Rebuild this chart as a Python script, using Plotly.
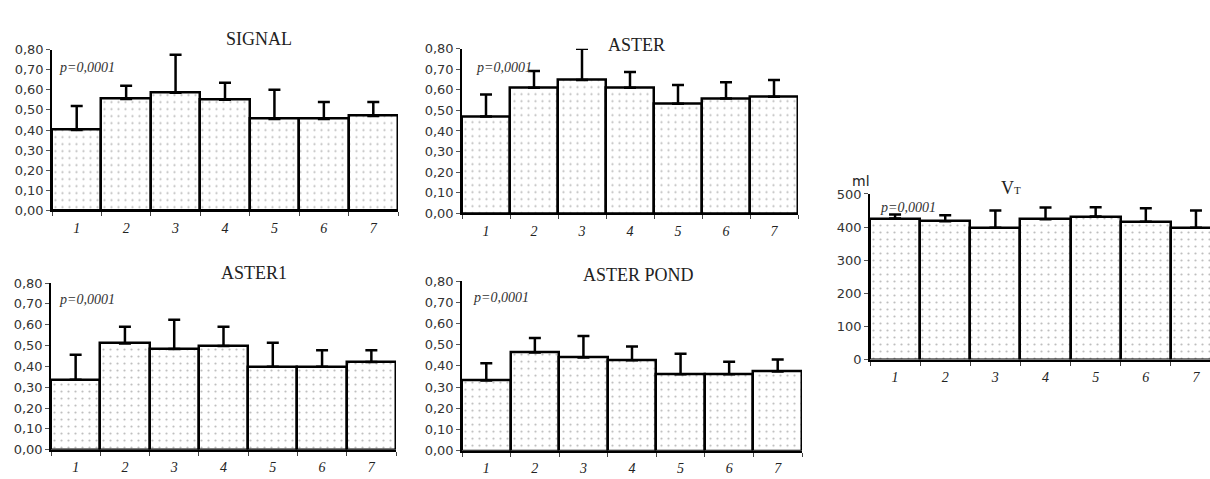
import plotly.graph_objects as go

# groups 1..7
groups = [1, 2, 3, 4, 5, 6, 7]
group_labels = ["1", "2", "3", "4", "5", "6", "7"]

# bar heights and top of the error bar
signal_mean = [0.40, 0.554, 0.585, 0.55, 0.455, 0.455, 0.47]
signal_top = [0.52, 0.62, 0.775, 0.635, 0.60, 0.54, 0.54]

aster_mean = [0.47, 0.61, 0.648, 0.61, 0.532, 0.558, 0.566]
aster_top = [0.577, 0.692, 0.80, 0.686, 0.624, 0.637, 0.648]

aster1_mean = [0.336, 0.51, 0.483, 0.498, 0.398, 0.398, 0.421]
aster1_top = [0.456, 0.59, 0.624, 0.59, 0.513, 0.478, 0.478]

pond_mean = [0.331, 0.463, 0.44, 0.427, 0.361, 0.361, 0.373]
pond_top = [0.412, 0.532, 0.541, 0.492, 0.457, 0.419, 0.43]

vt_mean = [426, 418, 398, 424, 432, 416, 398]
vt_top = [438, 436, 450, 459, 460, 457, 450]

ratio_ticks = [0, 0.1, 0.2, 0.3, 0.4, 0.5, 0.6, 0.7, 0.8]
vt_ticks = [0, 100, 200, 300, 400, 500]

W, H = 1210, 479


def px(x):
    return x / W


def py(y):
    return 1 - y / H


# (name, mean, top, x0, x1, y_top_px, y_zero_px, yrange, yticks, xmax)
panels = [
    ("SIGNAL", signal_mean, signal_top, 52, 398, 44, 210, [0, 0.8], ratio_ticks, 7.5),
    ("ASTER", aster_mean, aster_top, 462, 798, 43, 213, [0, 0.8], ratio_ticks, 7.5),
    ("ASTER1", aster1_mean, aster1_top, 51, 396, 285, 457, [0, 0.8], ratio_ticks, 7.5),
    ("ASTER POND", pond_mean, pond_top, 462, 802, 283, 458, [0, 0.8], ratio_ticks, 7.5),
    ("VT", vt_mean, vt_top, 870, 1210, 193, 364, [0, 500], vt_ticks, 7.28),
]

fig = go.Figure()
layout = {}

for i, (name, mean, top, x0, x1, yt, yz, yr, yticks, xmax) in enumerate(panels):
    n = "" if i == 0 else str(i + 1)
    up = [t - m for t, m in zip(top, mean)]
    fig.add_trace(go.Bar(
        x=groups, y=mean, width=1, name=name, showlegend=False,
        xaxis="x" + n, yaxis="y" + n,
        marker=dict(color="white", line=dict(color="black", width=2.5),
                    pattern=dict(shape=".", fgcolor="#7a7a7a", bgcolor="white",
                                 size=7, solidity=0.08)),
        error_y=dict(type="data", symmetric=False, array=up,
                     arrayminus=[0] * len(up), color="black",
                     thickness=2.5, width=6),
    ))
    layout["xaxis" + n] = dict(
        domain=[px(x0), px(x1)], range=[0.5, xmax], anchor="y" + n,
        tickvals=groups, ticktext=group_labels, ticks="",
        ticklabeloverflow="allow", ticklabelstandoff=4,
        tickfont=dict(family="Liberation Serif", size=14, color="#222", style="italic"),
        showline=True, linecolor="black", linewidth=2, showgrid=False, zeroline=False,
        minor=dict(tickvals=[g + 0.5 for g in [0] + groups], ticks="outside",
                   ticklen=4, tickcolor="#444", tickwidth=1),
    )
    layout["yaxis" + n] = dict(
        domain=[py(yz), py(yt)], range=yr, anchor="x" + n,
        tickvals=yticks, tickformat=".2f" if yr[1] < 1 else "d",
        ticks="outside", ticklen=4, tickcolor="#555",
        tickfont=dict(family="DejaVu Sans", size=13, color="#333"),
        showline=True, linecolor="black", linewidth=1.5, showgrid=False, zeroline=False,
    )

anns = [
    dict(text="SIGNAL", x=px(224), y=py(21)),
    dict(text="ASTER", x=px(636), y=py(27)),
    dict(text="ASTER1", x=px(219), y=py(275)),
    dict(text="ASTER POND", x=px(638), y=py(277)),
    dict(text="V<span style='font-size:11px'>T</span>", x=px(1023), y=py(187)),
]
annotations = []
for a in anns:
    annotations.append(dict(a, xref="paper", yref="paper", showarrow=False,
                            font=dict(family="Liberation Serif", size=18, color="#222")))

p_pos = [(57, 53), (474, 53), (57, 302), (471, 300), (878, 207)]
for x, y in p_pos:
    annotations.append(dict(text="<i>p=0,0001</i>", x=px(x), y=py(y), xref="paper",
                            yref="paper", xanchor="left", showarrow=False,
                            font=dict(family="Liberation Serif", size=14, color="#333")))

annotations.append(dict(text="ml", x=px(872), y=py(180), xref="paper", yref="paper",
                        showarrow=False, font=dict(family="DejaVu Sans", size=14, color="#222")))

fig.update_layout(
    width=W, height=H, margin=dict(l=0, r=0, t=0, b=0),
    paper_bgcolor="white", plot_bgcolor="white",
    separators=",.", bargap=0,
    annotations=annotations, **layout,
)

# the page's default 8px body margin would push the figure off the window
fig.write_html("out.html", config={"displayModeBar": False},
               post_script="document.body.style.margin = '0px';")
